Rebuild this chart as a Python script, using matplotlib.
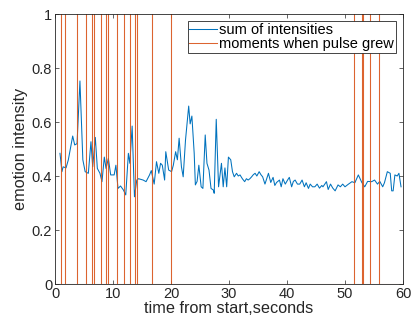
import matplotlib
matplotlib.use("Agg")
import matplotlib.pyplot as plt
import numpy as np

# blue trace: time (s) and summed emotion intensity
time_s = [0.86, 1.2, 1.4, 1.9, 2.3, 3.05, 3.4, 3.8, 4.3, 4.8, 5.2, 5.75, 6.2, 6.5, 6.95,
          7.3, 7.75, 8.1, 8.5, 8.8, 9.2, 9.6, 10.2, 10.5, 10.86, 11.3, 11.8, 12.2, 12.65,
          12.9, 13.3, 13.55, 13.7, 14.1, 14.4, 15.2, 15.7, 16.3, 16.6, 17.1, 17.5, 17.9,
          18.2, 18.5, 18.9, 19.1, 19.6, 20.1, 20.4, 20.8, 21.1, 21.4, 21.8, 22.1, 22.5,
          23.05, 23.3, 23.6, 24.0, 24.2, 24.5, 24.8, 25.2, 25.5, 25.9, 26.2, 26.55, 26.9,
          27.3, 27.45, 27.8, 28.2, 28.7, 29.0, 29.3, 29.6, 29.9, 30.3, 30.6, 30.9, 31.3,
          31.6, 31.9, 32.3, 32.7, 33.0, 33.3, 33.6, 33.9, 34.2, 34.5, 34.8, 35.2, 35.5,
          35.8, 36.2, 36.5, 36.8, 37.2, 37.6, 37.9, 38.2, 38.7, 39.0, 39.3, 39.7, 40.1,
          40.4, 40.8, 41.1, 41.4, 41.8, 42.2, 42.6, 43.0, 43.3, 43.7, 44.0, 44.4, 44.8,
          45.2, 45.6, 46.0, 46.2, 46.8, 47.1, 47.5, 47.9, 48.3, 48.8, 49.2, 49.6, 50.0,
          50.6, 51.2, 51.7, 52.3, 52.9, 53.4, 53.9, 54.6, 55.1, 55.6, 56.0, 56.5, 56.8,
          57.3, 57.8, 58.05, 58.3, 58.6, 59.0, 59.3, 59.66]
intensity = [0.484, 0.416, 0.434, 0.43, 0.46, 0.548, 0.515, 0.52, 0.752, 0.46, 0.416, 0.41,
             0.527, 0.434, 0.543, 0.428, 0.41, 0.379, 0.47, 0.428, 0.465, 0.404, 0.404,
             0.44, 0.354, 0.363, 0.348, 0.33, 0.484, 0.447, 0.585, 0.42, 0.323, 0.385, 0.39,
             0.385, 0.379, 0.404, 0.42, 0.37, 0.453, 0.41, 0.447, 0.44, 0.385, 0.49, 0.422,
             0.416, 0.44, 0.49, 0.46, 0.54, 0.434, 0.397, 0.533, 0.659, 0.593, 0.622, 0.484,
             0.367, 0.38, 0.44, 0.36, 0.354, 0.552, 0.447, 0.422, 0.354, 0.348, 0.336, 0.61,
             0.36, 0.447, 0.36, 0.43, 0.36, 0.47, 0.46, 0.416, 0.397, 0.41, 0.4, 0.404,
             0.39, 0.379, 0.39, 0.385, 0.39, 0.397, 0.405, 0.41, 0.4, 0.416, 0.405, 0.397,
             0.37, 0.39, 0.41, 0.376, 0.395, 0.365, 0.376, 0.385, 0.36, 0.39, 0.37, 0.385,
             0.395, 0.36, 0.38, 0.385, 0.37, 0.37, 0.385, 0.36, 0.375, 0.354, 0.37, 0.36,
             0.36, 0.37, 0.355, 0.365, 0.36, 0.379, 0.35, 0.37, 0.355, 0.345, 0.367, 0.36,
             0.37, 0.36, 0.37, 0.379, 0.375, 0.404, 0.376, 0.36, 0.38, 0.379, 0.385, 0.37,
             0.38, 0.36, 0.375, 0.416, 0.41, 0.345, 0.345, 0.404, 0.4, 0.41, 0.36]

# orange trace: moments when pulse grew (s)
pulse_moments = [1.09, 1.72, 3.85, 5.35, 6.43, 6.78, 7.93, 8.79, 9.09, 10.7, 11.95, 12.98,
                 13.84, 14.14, 16.67, 20.05, 51.6, 52.88, 53.1, 54.3, 55.9]
t_start, t_end = 0, 60

blue = "#0072BD"
orange = "#D95319"
axcol = "#262626"

pulse_x = [t_start]
pulse_y = [0]
for t in pulse_moments:
    pulse_x += [t, t, t]
    pulse_y += [0, 1, 0]
pulse_x.append(t_end)
pulse_y.append(0)

plt.rcParams['font.family'] = ['Liberation Sans', 'DejaVu Sans']

fig = plt.figure(figsize=(4.13, 3.24), dpi=100)
ax = fig.add_axes([55/413, 40/324, 348/413, 270/324])

ax.plot(time_s, intensity, color=blue, lw=0.75, label="sum of intensities")
ax.plot(pulse_x, pulse_y, color=orange, lw=0.75, alpha=0.9, label="moments when pulse grew")

ax.set_xlim(0, 60)
ax.set_ylim(0, 1)
ax.set_xticks(np.arange(0, 61, 10))
ax.set_yticks([0, 0.2, 0.4, 0.6, 0.8, 1])
ax.set_yticklabels(["0", "0.2", "0.4", "0.6", "0.8", "1"])
ax.tick_params(direction='in', top=True, right=True, length=3, width=0.5,
               colors=axcol, labelsize=10.5, pad=2)
for s in ax.spines.values():
    s.set_color(axcol)
    s.set_linewidth(0.6)

ax.set_xlabel("time from start,seconds", fontsize=11.7, color=axcol, labelpad=0)
ax.set_ylabel("emotion intensity", fontsize=11.7, color=axcol, labelpad=3)

leg = ax.legend(loc='upper right', bbox_to_anchor=(396/413, 1 - 21/324),
                bbox_transform=fig.transFigure, borderaxespad=0, fontsize=10.5,
                fancybox=False, framealpha=1, edgecolor=axcol, handlelength=1.9,
                handletextpad=0.15, borderpad=0.12, labelspacing=0.05)
leg.get_frame().set_linewidth(0.6)

fig.savefig("out.png", dpi=100)
